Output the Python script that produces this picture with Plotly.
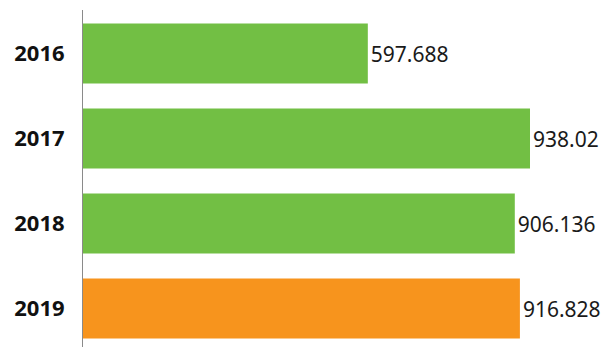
import plotly.graph_objects as go

years = ["2016", "2017", "2018", "2019"]
values = [597.688, 938.02, 906.136, 916.828]
value_labels = ["597.688", "938.02", "906.136", "916.828"]
colors = ["#72BF44", "#72BF44", "#72BF44", "#F7941D"]

fig = go.Figure(
    go.Bar(
        x=values,
        y=years,
        orientation="h",
        marker=dict(color=colors, line=dict(width=0)),
        text=value_labels,
        textposition="outside",
        textfont=dict(family="Noto Sans", size=21, color="#1a1a1a"),
        cliponaxis=False,
        width=0.706,
    )
)

fig.update_layout(
    width=613,
    height=347,
    margin=dict(l=83, r=0, t=10, b=0),
    paper_bgcolor="white",
    plot_bgcolor="white",
    showlegend=False,
    xaxis=dict(
        range=[0, 1112.2],
        visible=False,
        showgrid=False,
        zeroline=False,
    ),
    yaxis=dict(
        type="category",
        range=[3.453, -0.512],
        showline=True,
        linecolor="#8a8a8a",
        linewidth=1,
        showgrid=False,
        zeroline=False,
        ticks="",
        ticklabelstandoff=13,
        tickfont=dict(family="Noto Sans", size=22, color="#111111", weight="bold"),
    ),
)

fig.write_html("out.html")
